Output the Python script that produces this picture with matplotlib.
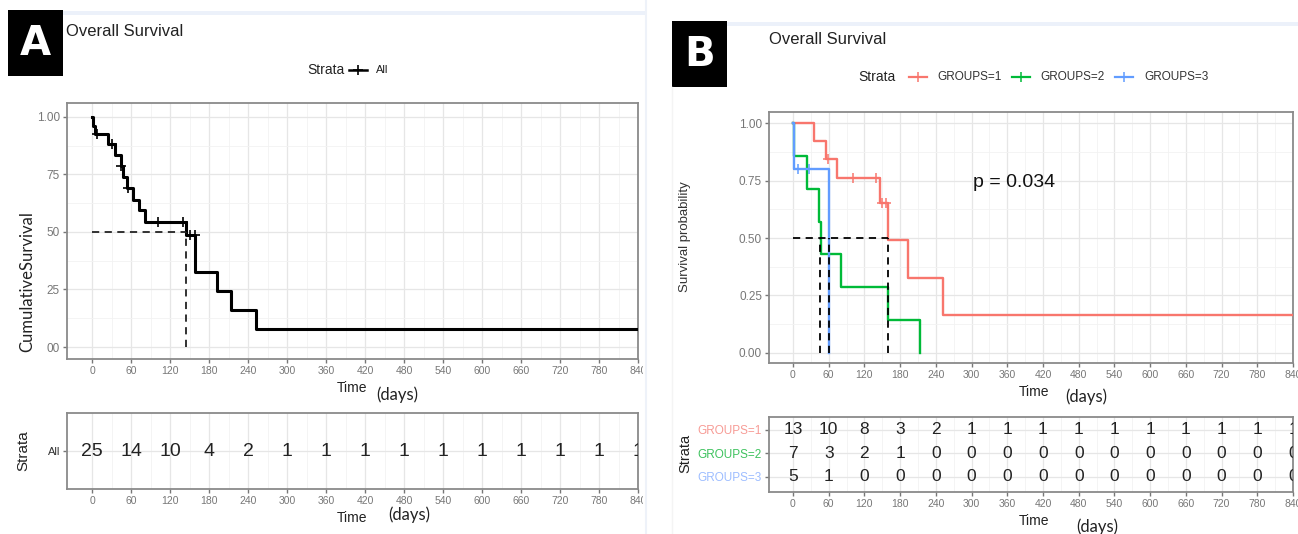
import numpy as np
import matplotlib
matplotlib.use('Agg')
import matplotlib.pyplot as plt
from matplotlib.lines import Line2D
from matplotlib.patches import Rectangle
from matplotlib.transforms import Bbox, TransformedBbox

plt.rcParams['font.family'] = ['Liberation Sans', 'DejaVu Sans']

W, H = 1298, 534

# ---- data ----
# panel A, all patients (survival in %)
a_time = [0, 1, 5, 24, 35, 45, 48, 54, 63, 72, 82, 145, 159, 193, 214, 252, 840]
a_surv = [100, 96, 92.5, 88, 83.5, 78.5, 74, 69, 64, 59.5, 54.5, 48.5, 32.5, 24.5, 16, 8, 8]
a_cens_t = [8, 30, 45, 55, 101, 140, 150, 159]
a_cens_s = [92.5, 88, 78.5, 69, 54.5, 54.5, 48.5, 48.5]
a_median = 145

# panel B, three groups
g1_time = [0, 36, 55, 74, 146, 160, 194, 252, 840]
g1_surv = [1.0, 0.923, 0.846, 0.762, 0.653, 0.49, 0.327, 0.163, 0.163]
g1_cens_t = [58, 100, 139, 150, 156]
g1_cens_s = [0.846, 0.762, 0.762, 0.653, 0.653]
g2_time = [0, 2, 24, 44, 47, 81, 160, 214]
g2_surv = [1.0, 0.857, 0.714, 0.571, 0.429, 0.286, 0.143, 0.0]
g3_time = [0, 2, 61]
g3_surv = [1.0, 0.8, 0.0]
g3_cens_t = [8, 27]
g3_cens_s = [0.8, 0.8]
b_medians = [46, 61, 160]
p_text = "p = 0.034"

risk_times = list(range(0, 841, 60))
a_risk = [25, 14, 10, 4, 2, 1, 1, 1, 1, 1, 1, 1, 1, 1, 1]
g1_risk = [13, 10, 8, 3, 2, 1, 1, 1, 1, 1, 1, 1, 1, 1, 1]
g2_risk = [7, 3, 2, 1, 0, 0, 0, 0, 0, 0, 0, 0, 0, 0, 0]
g3_risk = [5, 1, 0, 0, 0, 0, 0, 0, 0, 0, 0, 0, 0, 0, 0]

group_names = ["GROUPS=1", "GROUPS=2", "GROUPS=3"]
group_cols = ["#F8766D", "#00BA38", "#619CFF"]
group_cols_light = ["#F79B95", "#3EC25E", "#9DBDFF"]

GRID_MAJ = '#e6e6e6'
GRID_MIN = '#f2f2f2'
BORDER = '#8a8a8a'
TICKC = '#777777'


def rect(l, t, r, b):
    return [l / W, 1 - b / H, (r - l) / W, (b - t) / H]


def fx(x):
    return x / W


def fy(y):
    return 1 - y / H


def style(ax, xt_size=7.5, yt_size=8.5):
    ax.set_xticks(risk_times)
    ax.set_xticks(np.arange(30, 840, 60), minor=True)
    ax.grid(True, which='major', color=GRID_MAJ, lw=0.9)
    ax.grid(True, which='minor', color=GRID_MIN, lw=0.6)
    ax.set_axisbelow(True)
    for s in ax.spines.values():
        s.set_color(BORDER)
        s.set_linewidth(1.3)
    ax.tick_params(which='major', length=3, width=1, color=TICKC, labelcolor=TICKC,
                   pad=2)
    ax.tick_params(axis='x', labelsize=xt_size)
    ax.tick_params(axis='y', labelsize=yt_size)
    ax.tick_params(which='minor', length=0)


fig = plt.figure(figsize=(W / 100, H / 100), dpi=100)

# decorative strips / separators
fig.add_artist(Rectangle((fx(63), fy(15)), fx(645 - 63), 4 / H, transform=fig.transFigure,
                         color='#ecf1fa', lw=0))
fig.add_artist(Rectangle((fx(727), fy(26)), fx(W - 727), 4 / H, transform=fig.transFigure,
                         color='#ecf1fa', lw=0))
fig.add_artist(Line2D([fx(646), fx(646)], [0, 1], transform=fig.transFigure,
                      color='#eef2f9', lw=1.5))
fig.add_artist(Line2D([fx(672), fx(672)], [0, fy(87)], transform=fig.transFigure,
                      color='#f4f4f4', lw=1))

# panel letters
for (l, t, r, b, s) in [(8, 10, 63, 76, 'A'), (672, 21, 727, 87, 'B')]:
    fig.add_artist(Rectangle((fx(l), fy(b)), fx(r - l), (b - t) / H,
                             transform=fig.transFigure, color='black', lw=0))
    fig.text(fx((l + r) / 2), fy((t + b) / 2 + 1), s, color='white', fontsize=29,
             fontweight='bold', ha='center', va='center', family=['DejaVu Sans'])

# ================= Panel A =================
axA = fig.add_axes(rect(67, 103, 638, 359))
axA.step(a_time, a_surv, where='post', color='black', lw=2.2, zorder=3)
axA.plot(a_cens_t, a_cens_s, ls='none', marker='+', ms=7, mew=1.2, color='black', zorder=3)
axA.plot([0, a_median], [50, 50], ls=(0, (4, 3)), color='#222222', lw=1.3, zorder=4)
axA.plot([a_median, a_median], [0, 50], ls=(0, (4, 3)), color='#222222', lw=1.3, zorder=4)
axA.set_xlim(-38.5, 840)
axA.set_ylim(-5.2, 106)
axA.set_yticks([0, 25, 50, 75, 100])
axA.set_yticklabels(['00', '25', '50', '75', '1.00'])
axA.set_yticks([12.5, 37.5, 62.5, 87.5], minor=True)
style(axA)

fig.text(fx(66), fy(32), "Overall Survival", fontsize=12, ha='left', va='center', color='#222222')
fig.text(fx(307), fy(70), "Strata", fontsize=10, ha='left', va='center', color='#222222')
fig.add_artist(Line2D([fx(349), fx(367)], [fy(70), fy(70)], transform=fig.transFigure,
                      color='black', lw=1.8))
fig.add_artist(Line2D([fx(358)], [fy(70)], transform=fig.transFigure, marker='+', ms=7,
                      mew=1.2, color='black'))
fig.text(fx(376), fy(70), "All", fontsize=8, ha='left', va='center', color='#222222')
fig.text(fx(27), fy(282), "CumulativeSurvival", fontsize=12, rotation=90, ha='center',
         va='center', family=['Lato', 'DejaVu Sans'], color='#222222')
fig.text(fx(337), fy(388), "Time", fontsize=10, ha='left', va='center', color='#222222')
fig.text(fx(376), fy(395), "(days)", fontsize=12, ha='left', va='center',
         family=['Lato', 'DejaVu Sans'], color='#222222')

# risk table A
axAr = fig.add_axes(rect(67, 413, 638, 489))
for t, n in zip(risk_times, a_risk):
    axAr.text(t, 1, str(n), fontsize=14, ha='center', va='center', color='#222222', clip_on=True)
axAr.set_xlim(-38.5, 840)
axAr.set_ylim(0.5, 1.5)
axAr.set_yticks([1])
axAr.set_yticklabels(['All'])
style(axAr, yt_size=8)
axAr.tick_params(axis='y', labelcolor='#333333')
fig.text(fx(23), fy(451), "Strata", fontsize=11, rotation=90, ha='center', va='center',
         color='#222222')
fig.text(fx(337), fy(518), "Time", fontsize=10, ha='left', va='center', color='#222222')
fig.text(fx(388), fy(515), "(days)", fontsize=12, ha='left', va='center',
         family=['Lato', 'DejaVu Sans'], color='#222222')

# clip the '840' labels of panel A at the panel edge
clipA = TransformedBbox(Bbox.from_extents(0, 0, 643 / W, 1), fig.transFigure)
for a in (axA, axAr):
    for tk in a.xaxis.get_major_ticks():
        tk.label1.set_clip_box(clipA)
        tk.label1.set_clip_on(True)

# ================= Panel B =================
axB = fig.add_axes(rect(769, 112, 1293, 363))
axB.step(g1_time, g1_surv, where='post', color=group_cols[0], lw=1.7, zorder=3)
axB.step(g2_time, g2_surv, where='post', color=group_cols[1], lw=1.7, zorder=3)
axB.step(g3_time, g3_surv, where='post', color=group_cols[2], lw=1.7, zorder=3)
axB.plot(g1_cens_t, g1_cens_s, ls='none', marker='+', ms=7, mew=1.1, color=group_cols[0], zorder=3)
axB.plot(g3_cens_t, g3_cens_s, ls='none', marker='+', ms=7, mew=1.1, color=group_cols[2], zorder=3)
axB.plot([0, max(b_medians)], [0.5, 0.5], ls=(0, (4, 3)), color='black', lw=1.3, zorder=4)
for m in b_medians:
    axB.plot([m, m], [0, 0.5], ls=(0, (4, 3)), color='black', lw=1.3, zorder=4)
axB.text(302, 0.743, p_text, fontsize=14, ha='left', va='center', color='#111111')
axB.set_xlim(-40.3, 840)
axB.set_ylim(-0.045, 1.05)
axB.set_yticks([0, 0.25, 0.5, 0.75, 1.0])
axB.set_yticklabels(['0.00', '0.25', '0.50', '0.75', '1.00'])
axB.set_yticks([0.125, 0.375, 0.625, 0.875], minor=True)
style(axB)

fig.text(fx(769), fy(39), "Overall Survival", fontsize=12, ha='left', va='center', color='#222222')
fig.text(fx(858), fy(77), "Strata", fontsize=10, ha='left', va='center', color='#222222')
key_x = [909, 1012, 1115]
lab_x = [937, 1040, 1144]
for kx, lx, nm, c in zip(key_x, lab_x, group_names, group_cols):
    fig.add_artist(Line2D([fx(kx), fx(kx + 18)], [fy(77), fy(77)], transform=fig.transFigure,
                          color=c, lw=1.6))
    fig.add_artist(Line2D([fx(kx + 9)], [fy(77)], transform=fig.transFigure, marker='+', ms=7,
                          mew=1.1, color=c))
    fig.text(fx(lx), fy(77), nm, fontsize=8.5, ha='left', va='center', color='#333333')
fig.text(fx(685), fy(237), "Survival probability", fontsize=9.5, rotation=90, ha='center',
         va='center', color='#333333')
fig.text(fx(1019), fy(392), "Time", fontsize=10, ha='left', va='center', color='#222222')
fig.text(fx(1065), fy(397), "(days)", fontsize=12, ha='left', va='center',
         family=['Lato', 'DejaVu Sans'], color='#222222')

# risk table B
axBr = fig.add_axes(rect(769, 417, 1293, 492))
for row, vals in zip([3, 2, 1], [g1_risk, g2_risk, g3_risk]):
    for t, n in zip(risk_times, vals):
        axBr.text(t, row, str(n), fontsize=12.5, ha='center', va='center', color='#222222',
                  clip_on=True)
axBr.set_xlim(-40.3, 840)
axBr.set_ylim(0.36, 3.55)
axBr.set_yticks([3, 2, 1])
axBr.set_yticklabels(group_names)
style(axBr)
for lbl, c in zip(axBr.get_yticklabels(), group_cols_light):
    lbl.set_color(c)
fig.text(fx(685), fy(453), "Strata", fontsize=10.5, rotation=90, ha='center', va='center',
         color='#222222')
fig.text(fx(1019), fy(521), "Time", fontsize=10, ha='left', va='center', color='#222222')
fig.text(fx(1076), fy(527), "(days)", fontsize=12, ha='left', va='center',
         family=['Lato', 'DejaVu Sans'], color='#222222')

fig.savefig('out.png', dpi=100)
